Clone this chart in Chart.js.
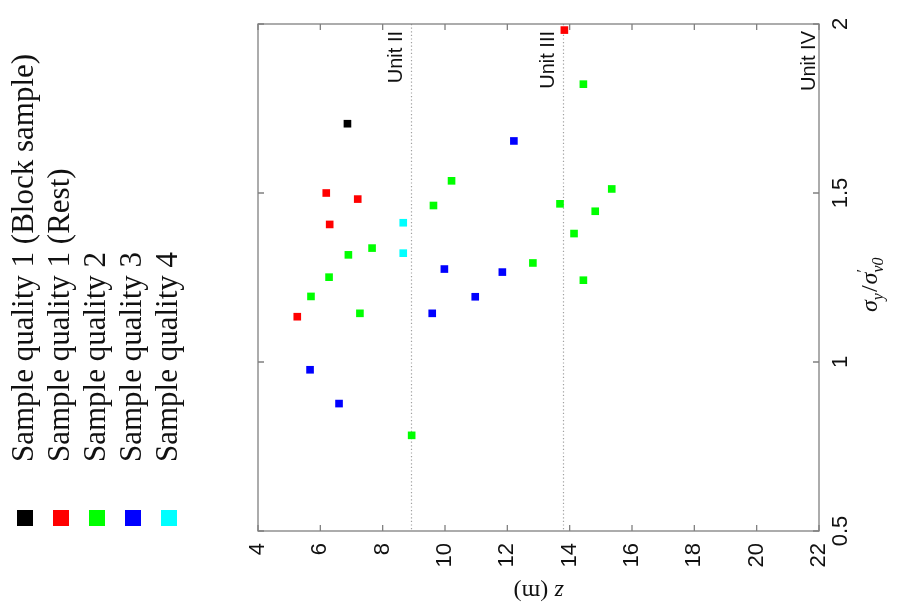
<!DOCTYPE html>
<html>
<head>
<meta charset="utf-8">
<script src="https://cdn.jsdelivr.net/npm/chart.js@4.4.1/dist/chart.umd.min.js"></script>
<style>
  html, body { margin: 0; padding: 0; background: #fff; }
  #wrap { width: 902px; height: 616px; position: relative; }
</style>
</head>
<body>
<div id="wrap"><canvas id="chart"></canvas></div>
<script>
// series labels and colours
const seriesNames = [
    "Sample quality 1 (Block sample)",
    "Sample quality 1 (Rest)",
    "Sample quality 2",
    "Sample quality 3",
    "Sample quality 4"
];
const seriesColors = ["#000000", "#ff0000", "#00ff00", "#0000ff", "#00ffff"];

// depth z (m) and sigma_y / sigma'_v0 per series
const zBlock = [6.87];
const ratioBlock = [1.705];

const zRest = [6.19, 7.20, 6.30, 5.26, 13.83];
const ratioRest = [1.500, 1.482, 1.407, 1.134, 1.982];

const zQ2 = [7.66, 6.90, 6.28, 5.70, 10.21, 9.63, 13.69, 14.14, 12.82, 14.44, 15.35, 14.82, 14.44, 7.27, 8.93];
const ratioQ2 = [1.337, 1.317, 1.251, 1.194, 1.536, 1.463, 1.468, 1.380, 1.293, 1.822, 1.512, 1.446, 1.242, 1.144, 0.783];

const zQ3 = [12.21, 9.98, 11.84, 10.97, 9.59, 5.67, 6.60];
const ratioQ3 = [1.654, 1.275, 1.266, 1.193, 1.144, 0.977, 0.877];

const zQ4 = [8.66, 8.66];
const ratioQ4 = [1.412, 1.322];

// axis ticks
const zTicks = [4, 6, 8, 10, 12, 14, 16, 18, 20, 22];
const ratioTicks = [0.5, 1, 1.5, 2];

// unit boundaries
const unitNames = ["Unit II", "Unit III", "Unit IV"];
const unitDepths = [8.9, 13.8, 22];

const allZ = [zBlock, zRest, zQ2, zQ3, zQ4];
const allRatio = [ratioBlock, ratioRest, ratioQ2, ratioQ3, ratioQ4];

const datasets = seriesNames.map((name, i) => ({
    label: name,
    data: allZ[i].map((z, j) => ({ x: z, y: allRatio[i][j] })),
    backgroundColor: seriesColors[i],
    borderColor: seriesColors[i],
    borderWidth: 0,
    pointStyle: "rect",
    pointRadius: 5.4,
    pointHoverRadius: 5.4
}));

function rotText(ctx, text, x, y, angle, align, baseline, font, color) {
    ctx.save();
    ctx.translate(x, y);
    ctx.rotate(angle);
    ctx.font = font;
    ctx.fillStyle = color || "#000";
    ctx.textAlign = align;
    ctx.textBaseline = baseline;
    ctx.fillText(text, 0, 0);
    ctx.restore();
}

const framePlugin = {
    id: "frame",
    beforeDatasetsDraw(chart) {
        const ctx = chart.ctx;
        const xs = chart.scales.x;
        const area = chart.chartArea;
        // dotted unit boundaries
        ctx.save();
        ctx.strokeStyle = "#a0a0a0";
        ctx.lineWidth = 1.2;
        ctx.setLineDash([1.2, 2.4]);
        unitDepths.forEach(d => {
            const px = Math.round(xs.getPixelForValue(d)) + 0.5;
            if (px < area.right - 1) {
                ctx.beginPath();
                ctx.moveTo(px, area.top);
                ctx.lineTo(px, area.bottom);
                ctx.stroke();
            }
        });
        ctx.restore();
    },
    afterDraw(chart) {
        const ctx = chart.ctx;
        const xs = chart.scales.x;
        const ys = chart.scales.y;
        const a = chart.chartArea;
        const up = -Math.PI / 2;

        // frame and inward ticks
        ctx.save();
        ctx.strokeStyle = "#808080";
        ctx.lineWidth = 1.3;
        ctx.strokeRect(a.left, a.top, a.right - a.left, a.bottom - a.top);
        ctx.beginPath();
        zTicks.forEach(v => {
            const px = xs.getPixelForValue(v);
            ctx.moveTo(px, a.bottom); ctx.lineTo(px, a.bottom - 6);
            ctx.moveTo(px, a.top); ctx.lineTo(px, a.top + 6);
        });
        ratioTicks.forEach(v => {
            const py = ys.getPixelForValue(v);
            ctx.moveTo(a.left, py); ctx.lineTo(a.left + 6, py);
            ctx.moveTo(a.right, py); ctx.lineTo(a.right - 6, py);
        });
        ctx.stroke();
        ctx.restore();

        // tick labels
        const tickFont = "22px 'Liberation Sans', Arial, sans-serif";
        zTicks.forEach(v => {
            rotText(ctx, String(v), xs.getPixelForValue(v), a.bottom + 12, up, "right", "middle", tickFont, "#111");
        });
        ratioTicks.forEach(v => {
            rotText(ctx, String(v), a.right + 11, ys.getPixelForValue(v), up, "center", "top", tickFont, "#111");
        });

        // unit labels
        const unitGap = [9, 9, 4];
        unitNames.forEach((u, i) => {
            const px = Math.min(xs.getPixelForValue(unitDepths[i]), a.right) - unitGap[i];
            rotText(ctx, u, px, a.top + 7, up, "right", "alphabetic", "20px 'Liberation Sans', Arial, sans-serif", "#111");
        });

        // x title "z (m)" drawn upside down
        ctx.save();
        ctx.translate((a.left + a.right) / 2, 591);
        ctx.rotate(Math.PI);
        ctx.fillStyle = "#111";
        ctx.textBaseline = "middle";
        const zFont = "italic 24px 'Liberation Serif', serif";
        const mFont = "24px 'Liberation Serif', serif";
        ctx.font = zFont; const wz = ctx.measureText("z ").width;
        ctx.font = mFont; const wm = ctx.measureText("(m)").width;
        let cx = -(wz + wm) / 2;
        ctx.textAlign = "left";
        ctx.font = zFont; ctx.fillText("z ", cx, 0);
        ctx.font = mFont; ctx.fillText("(m)", cx + wz, 0);
        ctx.restore();

        // y title sigma_y / sigma'_v0, reading bottom to top
        ctx.save();
        ctx.translate(877, 312);
        ctx.rotate(up);
        ctx.fillStyle = "#111";
        ctx.textAlign = "left";
        ctx.textBaseline = "alphabetic";
        const big = "italic 24px 'Liberation Serif', serif";
        const sub = "italic 16px 'Liberation Serif', serif";
        const reg = "24px 'Liberation Serif', serif";
        let px = 0;
        ctx.font = big; ctx.fillText("σ", px, 0); px += ctx.measureText("σ").width;
        ctx.font = sub; ctx.fillText("y", px, 6); px += ctx.measureText("y").width + 1;
        ctx.font = reg; ctx.fillText("/", px, 0); px += ctx.measureText("/").width + 1;
        ctx.font = big; ctx.fillText("σ", px, 0); px += ctx.measureText("σ").width;
        ctx.font = "16px 'Liberation Serif', serif"; ctx.fillText("′", px, -9);
        ctx.font = sub; ctx.fillText("v0", px, 6);
        ctx.restore();

        // legend on the left
        chart.data.datasets.forEach((ds, i) => {
            const cx = 25 + i * 36;
            ctx.fillStyle = ds.backgroundColor;
            ctx.fillRect(cx - 8, 510, 16, 16);
            rotText(ctx, ds.label, 33 + i * 36, 462, up, "left", "alphabetic", "31px 'Liberation Serif', 'Times New Roman', serif", "#111");
        });
    }
};

new Chart(document.getElementById("chart"), {
    type: "scatter",
    data: { datasets: datasets },
    options: {
        responsive: true,
        maintainAspectRatio: false,
        animation: false,
        layout: { padding: { left: 258, top: 24, right: 0, bottom: 0 } },
        plugins: {
            legend: { display: false },
            tooltip: { enabled: false }
        },
        scales: {
            x: {
                type: "linear",
                min: 4,
                max: 22,
                ticks: { display: false, stepSize: 2 },
                grid: { display: false },
                border: { display: false },
                afterFit: scale => { scale.height = 85; }
            },
            y: {
                type: "linear",
                position: "right",
                min: 0.5,
                max: 2,
                ticks: { display: false, stepSize: 0.5 },
                grid: { display: false },
                border: { display: false },
                afterFit: scale => { scale.width = 83; }
            }
        }
    },
    plugins: [framePlugin]
});
</script>
</body>
</html>
